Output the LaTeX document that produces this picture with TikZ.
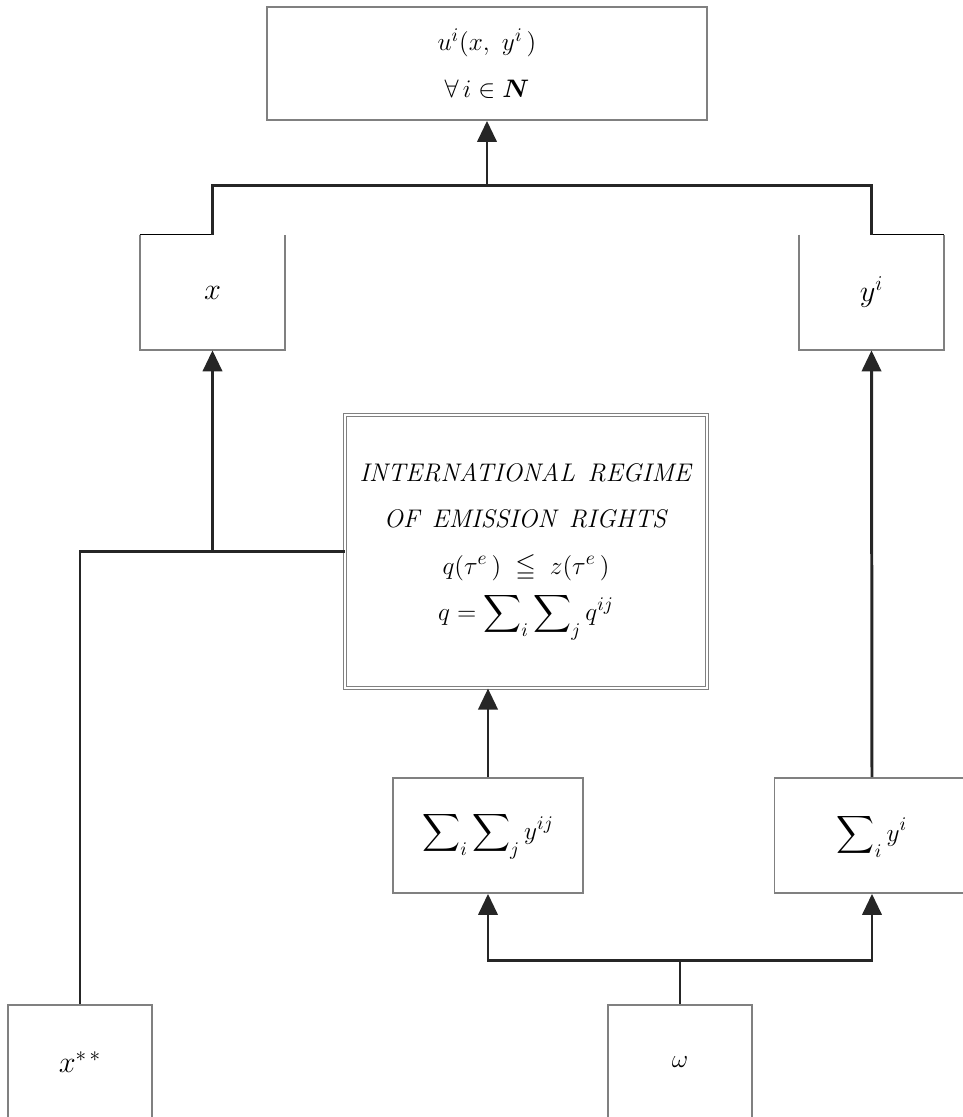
\documentclass[tikz,border=0pt]{standalone}
\usepackage{amsmath,amssymb,bm}
\usetikzlibrary{arrows.meta}
\tikzset{
  box/.style={draw=gray, line width=1pt, minimum width=2.9cm, minimum height=2.3cm, inner sep=0pt},
  openbox/.style={minimum width=2.9cm, minimum height=2.3cm, inner sep=0pt},
  edge/.style={draw=gray, line width=1pt},
  link/.style={line width=1.7pt, draw=black!85},
  arr/.style={link, -{Triangle[length=12pt,width=11pt]}},
}
\begin{document}
\begin{tikzpicture}[x=0.02cm, y=-0.02cm, font=\fontsize{15}{26.5}\selectfont]
    \clip (0,0) rectangle (963,1117);
    \node[box, minimum width=8.8cm, minimum height=2.26cm, align=center]
    (util) at (487,63.5) {$u^i(x,\ y^i\,)$\\$\forall\, i\in\bm{N}$};
    \node[openbox, font=\fontsize{17}{20}\selectfont] (xb) at (212.5,292.5) {$x$};
    \node[openbox, font=\fontsize{17}{20}\selectfont] (yb) at (871.5,292.5) {$y^i$};
    \draw[edge] (xb.north west) -- (xb.south west) -- (xb.south east) -- (xb.north east);
    \draw[edge] (yb.north west) -- (yb.south west) -- (yb.south east) -- (yb.north east);
    \draw[black, line width=0.6pt] (xb.north west) -- (xb.north);
    \draw[black, line width=0.6pt] (yb.north) -- (yb.north east);
    \node[draw=gray, double, double distance=1.5pt, line width=0.6pt,
          minimum width=7.24cm, minimum height=5.46cm, inner sep=0pt, align=center]
    (regime) at (526,551.5) {\fontsize{14.5}{26.5}\selectfont\textit{INTERNATIONAL\hspace{0.5em}REGIME}\\
                             \fontsize{14.5}{26.5}\selectfont\textit{OF\hspace{0.5em}EMISSION\hspace{0.5em}RIGHTS}\\
                             $q(\tau^{e}\,)\;\leqq\; z(\tau^{e}\,)$\\
                             $q=\displaystyle\sum\nolimits_i\sum\nolimits_j q^{ij}$};
    \node[box, minimum width=3.8cm] (sumyy) at (488,835.5)
    {$\displaystyle\sum\nolimits_i\sum\nolimits_j y^{ij}$};
    \node[box, minimum width=3.9cm] (sumy) at (872,835.5)
    {$\displaystyle\sum\nolimits_i y^i$};
    \node[box, minimum width=2.88cm, font=\fontsize{17}{20}\selectfont] (xstar) at (80,1062.5) {$x^{*\,*}$};
    \node[box, minimum width=2.88cm] (omega) at (680,1062.5) {$\omega$};
    % connectors
    \coordinate (top) at (487,185);
    \draw[link] (xb.north) |- (top) -| (yb.north);
    \draw[arr] (top) -- (util.south);
    \coordinate (left) at (xb.south |- regime.west);
    \draw[link] (xstar.north) |- (regime.west);
    \draw[arr] (left) -- (xb.south);
    \draw[arr] (sumyy.north) -- (sumyy.north |- regime.south);
    \draw[arr] (sumy.north) -- (yb.south);
    \coordinate (bot) at (680,960);
    \draw[link] (omega.north) -- (bot);
    \draw[arr] (bot) -| (sumyy.south);
    \draw[arr] (bot) -| (sumy.south);
\end{tikzpicture}
\end{document}
